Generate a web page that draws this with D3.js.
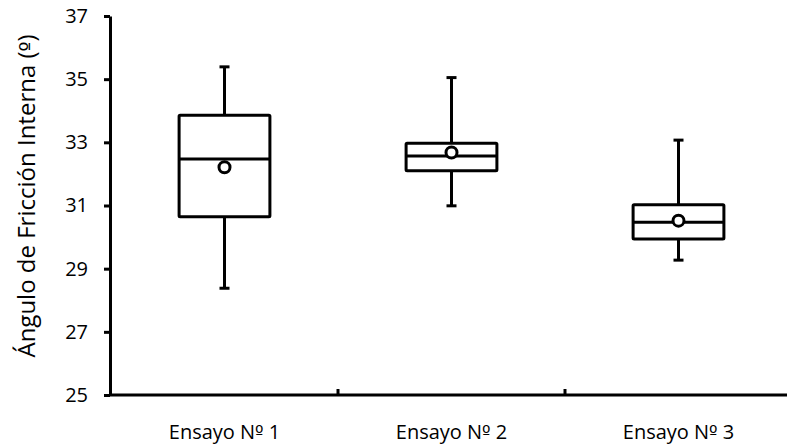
<!DOCTYPE html>
<html>
<head>
<meta charset="utf-8">
<script src="https://cdn.jsdelivr.net/npm/d3@7"></script>
<style>
  body { margin: 0; background: #fff; }
  svg { display: block; font-family: "Open Sans", sans-serif; }
</style>
</head>
<body>
<svg id="chart" width="787" height="446"></svg>
<script>
// data
const categories = ['Ensayo Nº 1', 'Ensayo Nº 2', 'Ensayo Nº 3'];
const whiskerLow = [28.38, 30.99, 29.27];
const q1Values = [30.64, 32.10, 29.94];
const medianValues = [32.47, 32.57, 30.47];
const q3Values = [33.86, 32.97, 31.02];
const whiskerHigh = [35.39, 35.05, 33.07];
const meanValues = [32.21, 32.68, 30.52];
const yTicks = [25, 27, 29, 31, 33, 35, 37];

const boxes = categories.map((c, i) => ({
    cat: c, lo: whiskerLow[i], q1: q1Values[i], med: medianValues[i],
    q3: q3Values[i], hi: whiskerHigh[i], mean: meanValues[i]
}));

const svg = d3.select('#chart');

const xScale = d3.scaleBand().domain(categories).range([111, 792]).padding(0);
const yScale = d3.scaleLinear().domain([25, 37]).range([395, 16]);

const boxW = xScale.bandwidth() * 0.4;
const capW = 10;

// y axis
const yAxisG = svg.append('g').attr('transform', 'translate(110,0)')
    .call(d3.axisLeft(yScale).tickValues(yTicks).tickSize(6).tickSizeOuter(0).tickPadding(16));
yAxisG.select('.domain').attr('stroke', '#000').attr('stroke-width', 3);
yAxisG.selectAll('.tick line').attr('stroke', '#000').attr('stroke-width', 3);
yAxisG.selectAll('.tick text')
    .attr('fill', '#000')
    .style('font-size', '20px')
    .style('font-family', '"Open Sans", sans-serif');

// x axis: labels centred under each box, ticks on the band boundaries
const xAxisG = svg.append('g').attr('transform', 'translate(0,395)')
    .call(d3.axisBottom(xScale).tickSize(0).tickPadding(30));
xAxisG.select('.domain').remove();
xAxisG.selectAll('.tick text')
    .attr('fill', '#000')
    .style('font-size', '20px')
    .style('font-family', '"Open Sans", sans-serif');
// the ordinal sign, drawn in a font that underlines it
xAxisG.selectAll('.tick text').each(function(d) {
    const parts = d.split('º');
    const t = d3.select(this).text(null);
    t.append('tspan').text(parts[0]);
    t.append('tspan').style('font-family', '"DejaVu Sans", sans-serif').style('font-size', '18px').text('º');
    t.append('tspan').text(parts[1]);
});

svg.append('line')
    .attr('x1', 110).attr('x2', xScale.range()[1])
    .attr('y1', yScale(25)).attr('y2', yScale(25))
    .attr('stroke', '#000').attr('stroke-width', 3);

svg.selectAll('line.bandTick')
    .data(categories.slice(1))
    .enter()
    .append('line')
        .attr('class', 'bandTick')
        .attr('x1', d => xScale(d)).attr('x2', d => xScale(d))
        .attr('y1', yScale(25)).attr('y2', yScale(25) - 6)
        .attr('stroke', '#000').attr('stroke-width', 3);

// boxes
const boxG = svg.selectAll('g.boxG')
    .data(boxes)
    .enter()
    .append('g')
        .attr('class', 'boxG')
        .attr('transform', d => 'translate(' + (xScale(d.cat) + xScale.bandwidth() / 2) + ',0)');

boxG.append('line')
    .attr('x1', 0).attr('x2', 0)
    .attr('y1', d => yScale(d.hi)).attr('y2', d => yScale(d.lo))
    .attr('stroke', '#000').attr('stroke-width', 3);

boxG.append('line')
    .attr('x1', -capW / 2).attr('x2', capW / 2)
    .attr('y1', d => yScale(d.hi)).attr('y2', d => yScale(d.hi))
    .attr('stroke', '#000').attr('stroke-width', 3);

boxG.append('line')
    .attr('x1', -capW / 2).attr('x2', capW / 2)
    .attr('y1', d => yScale(d.lo)).attr('y2', d => yScale(d.lo))
    .attr('stroke', '#000').attr('stroke-width', 3);

boxG.append('rect')
    .attr('x', -boxW / 2)
    .attr('width', boxW)
    .attr('y', d => yScale(d.q3))
    .attr('height', d => yScale(d.q1) - yScale(d.q3))
    .attr('rx', 1)
    .attr('fill', '#fff')
    .attr('stroke', '#000').attr('stroke-width', 3);

boxG.append('line')
    .attr('x1', -boxW / 2).attr('x2', boxW / 2)
    .attr('y1', d => yScale(d.med)).attr('y2', d => yScale(d.med))
    .attr('stroke', '#000').attr('stroke-width', 3);

boxG.append('circle')
    .attr('cx', 0)
    .attr('cy', d => yScale(d.mean))
    .attr('r', 5.5)
    .attr('fill', '#fff')
    .attr('stroke', '#000').attr('stroke-width', 3);

// y axis title
const yTitle = svg.append('text')
    .attr('transform', 'translate(35,196) rotate(-90)')
    .attr('text-anchor', 'middle')
    .attr('fill', '#000')
    .style('font-size', '24px')
    .style('font-family', '"Open Sans", sans-serif');
yTitle.append('tspan').text('Ángulo de Fricción Interna (');
yTitle.append('tspan').style('font-family', '"DejaVu Sans", sans-serif').style('font-size', '21px').text('º');
yTitle.append('tspan').text(')');
</script>
</body>
</html>
